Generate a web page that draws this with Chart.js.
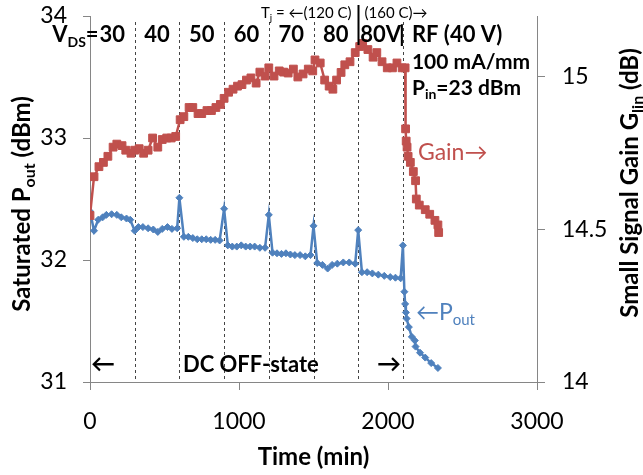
<!DOCTYPE html>
<html>
<head>
<meta charset="utf-8">
<script src="https://cdn.jsdelivr.net/npm/chart.js@4.4.0/dist/chart.umd.min.js"></script>
<style>
  html, body { margin: 0; padding: 0; background: #fff; }
  #wrap { width: 643px; height: 475px; position: relative; }
</style>
</head>
<body>
<div id="wrap"><canvas id="chart"></canvas></div>
<script>
const FAMILY = 'Lato, "Open Sans", sans-serif';
const RED = '#c0504d';
const BLUE = '#4f81bd';

// small signal gain (dB), right axis
const gainTime = [0, 27, 60, 90, 120, 155, 180, 215, 240, 275, 300, 330, 360, 390, 420, 455, 485, 515, 545, 575,
  605, 630, 665, 690, 725, 750, 785, 815, 845, 875, 900, 930, 960, 990, 1020, 1050, 1080, 1115, 1140, 1175,
  1200, 1235, 1270, 1300, 1330, 1365, 1395, 1430, 1465, 1495, 1510, 1545, 1575, 1605, 1630, 1655, 1685, 1710,
  1745, 1780, 1810, 1830, 1865, 1900, 1925, 1960, 1995, 2030, 2060, 2095, 2115, 2118, 2122, 2128, 2135, 2150,
  2170, 2185, 2190, 2210, 2250, 2280, 2315, 2335, 2340];
const gainValues = [14.546, 14.673, 14.706, 14.72, 14.74, 14.77, 14.78, 14.775, 14.76, 14.75, 14.76, 14.765, 14.75,
  14.76, 14.80, 14.77, 14.795, 14.80, 14.80, 14.805, 14.86, 14.87, 14.90, 14.90, 14.88, 14.88, 14.89, 14.89, 14.90,
  14.91, 14.93, 14.95, 14.96, 14.97, 14.975, 14.99, 14.997, 14.98, 15.016, 15.003, 15.03, 15.003, 15.02, 15.016,
  15.013, 15.026, 15.0, 15.01, 15.026, 15.02, 15.056, 15.046, 14.99, 14.97, 14.96, 14.99, 15.015, 15.04, 15.05,
  15.08, 15.10, 15.11, 15.09, 15.065, 15.08, 15.05, 15.03, 15.03, 15.046, 15.03, 15.03, 14.83, 14.79, 14.77,
  14.74, 14.72, 14.69, 14.66, 14.60, 14.58, 14.565, 14.55, 14.53, 14.515, 14.49];

// saturated output power (dBm), left axis
const poutTime = [0, 27, 55, 85, 110, 145, 180, 210, 245, 270, 300, 325, 355, 390, 425, 455, 485, 520, 550, 585,
  600, 630, 660, 690, 720, 750, 780, 810, 840, 870, 900, 925, 955, 985, 1015, 1045, 1075, 1105, 1140, 1175,
  1200, 1225, 1255, 1285, 1315, 1345, 1375, 1410, 1445, 1480, 1500, 1525, 1560, 1595, 1625, 1660, 1700, 1740,
  1780, 1800, 1825, 1860, 1895, 1935, 1975, 2015, 2050, 2085, 2100, 2110, 2115, 2120, 2125, 2140, 2160, 2180,
  2185, 2215, 2250, 2290, 2335];
const poutValues = [32.40, 32.24, 32.33, 32.35, 32.37, 32.375, 32.37, 32.35, 32.34, 32.33, 32.24, 32.27, 32.27,
  32.26, 32.25, 32.23, 32.255, 32.27, 32.255, 32.26, 32.51, 32.19, 32.19, 32.18, 32.17, 32.17, 32.17, 32.165,
  32.165, 32.16, 32.42, 32.12, 32.11, 32.11, 32.12, 32.11, 32.11, 32.11, 32.10, 32.10, 32.37, 32.06, 32.055,
  32.05, 32.055, 32.045, 32.04, 32.04, 32.03, 32.04, 32.28, 31.975, 31.96, 31.93, 31.96, 31.97, 31.98, 31.98,
  31.97, 32.245, 31.90, 31.90, 31.89, 31.88, 31.87, 31.86, 31.855, 31.85, 32.12, 31.74, 31.64, 31.57, 31.52,
  31.45, 31.37, 31.34, 31.29, 31.24, 31.20, 31.155, 31.115];

// drain voltage steps (min) and their labels
const stepStarts = [0, 300, 600, 900, 1200, 1500, 1800, 2100];
const vdsLabels = ['30', '40', '50', '60', '70', '80', '80V'];

const xTicks = [0, 1000, 2000, 3000];
const gainTicks = [14, 14.5, 15];

function pairs(xs, ys) { return xs.map((x, i) => ({ x, y: ys[i] })); }

function drawRich(ctx, parts, x, y, opt) {
  const size = opt.size;
  const weight = opt.bold ? 'bold ' : '';
  const fontFor = sub => `${weight}${sub ? Math.round(size * 0.65) : size}px ${FAMILY}`;
  let total = 0;
  for (const [t, sub] of parts) { ctx.font = fontFor(sub); total += ctx.measureText(t).width; }
  ctx.save();
  ctx.translate(x, y);
  if (opt.rotate) ctx.rotate(opt.rotate);
  let cx = opt.align === 'center' ? -total / 2 : opt.align === 'right' ? -total : 0;
  ctx.fillStyle = opt.color || '#000';
  ctx.textAlign = 'left';
  ctx.textBaseline = 'middle';
  for (const [t, sub] of parts) {
    ctx.font = fontFor(sub);
    ctx.fillText(t, cx, sub ? size * 0.32 : 0);
    cx += ctx.measureText(t).width;
  }
  ctx.restore();
}

const stepLines = {
  id: 'stepLines',
  beforeDatasetsDraw(chart) {
    const { ctx, chartArea, scales: { x } } = chart;
    ctx.save();
    ctx.strokeStyle = '#444';
    ctx.lineWidth = 1;
    ctx.setLineDash([3, 3]);
    stepStarts.slice(1).forEach(t => {
      const px = Math.round(x.getPixelForValue(t)) + 0.5;
      ctx.beginPath();
      ctx.moveTo(px, chartArea.top + 6);
      ctx.lineTo(px, chartArea.bottom);
      ctx.stroke();
    });
    ctx.restore();
  },
  afterDraw(chart) {
    const { ctx, chartArea, scales: { x } } = chart;
    const top = chartArea.top;

    // junction temperature marker
    const tx = Math.round(x.getPixelForValue(1800)) + 0.5;
    ctx.save();
    ctx.strokeStyle = '#000';
    ctx.lineWidth = 2;
    ctx.beginPath();
    ctx.moveTo(tx, top - 11);
    ctx.lineTo(tx, top + 29);
    ctx.stroke();
    ctx.restore();
    drawRich(ctx, [['T', false], ['j', true], [' = \u2190(120 C)', false]], tx - 7, top - 3, { size: 15, align: 'right' });
    drawRich(ctx, [['(160 C)\u2192', false]], tx + 6, top - 3, { size: 15, align: 'left' });

    // V_DS row
    const rowY = top + 19;
    const rowSize = 22;
    vdsLabels.forEach((lab, i) => {
      const cx = x.getPixelForValue((stepStarts[i] + stepStarts[i + 1]) / 2);
      drawRich(ctx, [[lab, false]], cx, rowY, { size: rowSize, bold: true, align: 'center' });
      if (i === 0) {
        ctx.font = `bold ${rowSize}px ${FAMILY}`;
        const w = ctx.measureText(lab).width;
        drawRich(ctx, [['V', false], ['DS', true], ['=', false]], cx - w / 2 - 1, rowY, { size: rowSize, bold: true, align: 'right' });
      }
    });
    const rfX = x.getPixelForValue(2100);
    drawRich(ctx, [['|', false]], rfX - 1, rowY, { size: rowSize, bold: true, align: 'center' });
    drawRich(ctx, [['RF (40 V)', false]], rfX + 9, rowY, { size: rowSize, bold: true, align: 'left' });
    drawRich(ctx, [['100 mA/mm', false]], rfX + 9, top + 46, { size: 21, bold: true, align: 'left' });
    drawRich(ctx, [['P', false], ['in', true], ['=23 dBm', false]], rfX + 9, top + 72, { size: 21, bold: true, align: 'left' });

    // series labels
    drawRich(ctx, [['Gain\u2192', false]], rfX + 15, 153, { size: 23, align: 'left', color: RED });
    drawRich(ctx, [['\u2190P', false], ['out', true]], rfX + 13, 313, { size: 23, align: 'left', color: BLUE });

    // DC OFF-state
    const dcY = chartArea.bottom - 18;
    drawRich(ctx, [['\u2190', false]], x.getPixelForValue(0) + 1, dcY, { size: 24, bold: true, align: 'left' });
    drawRich(ctx, [['\u2192', false]], x.getPixelForValue(2100) - 2, dcY, { size: 24, bold: true, align: 'right' });
    drawRich(ctx, [['DC OFF-state', false]], x.getPixelForValue(1080), dcY + 1, { size: 22, bold: true, align: 'center' });

    // axis titles
    drawRich(ctx, [['Saturated P', false], ['out', true], [' (dBm)', false]], 22, 204, { size: 24, bold: true, align: 'center', rotate: -Math.PI / 2 });
    drawRich(ctx, [['Small Signal Gain G', false], ['lin', true], [' (dB)', false]], 630, 183, { size: 24, bold: true, align: 'center', rotate: -Math.PI / 2 });
    drawRich(ctx, [['Time (min)', false]], (chartArea.left + chartArea.right) / 2, 457, { size: 24, bold: true, align: 'center' });
  }
};

const axisGrid = { drawOnChartArea: false, drawTicks: true, tickLength: 8, color: '#868686' };
const axisBorder = { display: true, color: '#868686', width: 1 };
const tickFont = { family: FAMILY, size: 23 };
const plain = v => String(v);
const fitY = w => s => { s.width = w; s.paddingTop = 0; s.paddingBottom = 0; };

new Chart(document.getElementById('chart').getContext('2d'), {
  type: 'line',
  data: {
    datasets: [
      {
        label: 'Gain',
        data: pairs(gainTime, gainValues),
        yAxisID: 'y2',
        borderColor: RED,
        backgroundColor: RED,
        borderWidth: 2.5,
        pointStyle: 'rect',
        pointRadius: 5.5,
        pointBorderWidth: 1,
        tension: 0
      },
      {
        label: 'Pout',
        data: pairs(poutTime, poutValues),
        yAxisID: 'y',
        borderColor: BLUE,
        backgroundColor: BLUE,
        borderWidth: 2.5,
        pointStyle: 'rectRot',
        pointRadius: 3.5,
        pointBorderWidth: 1,
        tension: 0
      }
    ]
  },
  options: {
    responsive: true,
    maintainAspectRatio: false,
    animation: false,
    layout: { padding: { top: 16, left: 0, right: 0, bottom: 0 } },
    plugins: { legend: { display: false }, tooltip: { enabled: false } },
    scales: {
      x: {
        type: 'linear',
        min: 0, max: 3000,
        afterBuildTicks: s => { s.ticks = xTicks.map(v => ({ value: v })); },
        afterFit: s => { s.height = 93; },
        ticks: { font: tickFont, color: '#000', padding: 18, maxRotation: 0, callback: plain },
        grid: axisGrid,
        border: axisBorder
      },
      y: {
        position: 'left',
        min: 31, max: 34,
        afterFit: fitY(90),
        ticks: { stepSize: 1, font: tickFont, color: '#000', padding: 16, callback: plain },
        grid: { ...axisGrid, tickLength: 7 },
        border: axisBorder
      },
      y2: {
        position: 'right',
        min: 14, max: 15.2,
        bounds: 'data',
        afterBuildTicks: s => { s.ticks = gainTicks.map(v => ({ value: v })); },
        afterFit: fitY(106),
        ticks: { font: tickFont, color: '#000', padding: 17, callback: plain },
        grid: axisGrid,
        border: axisBorder
      }
    }
  },
  plugins: [stepLines]
});
</script>
</body>
</html>
